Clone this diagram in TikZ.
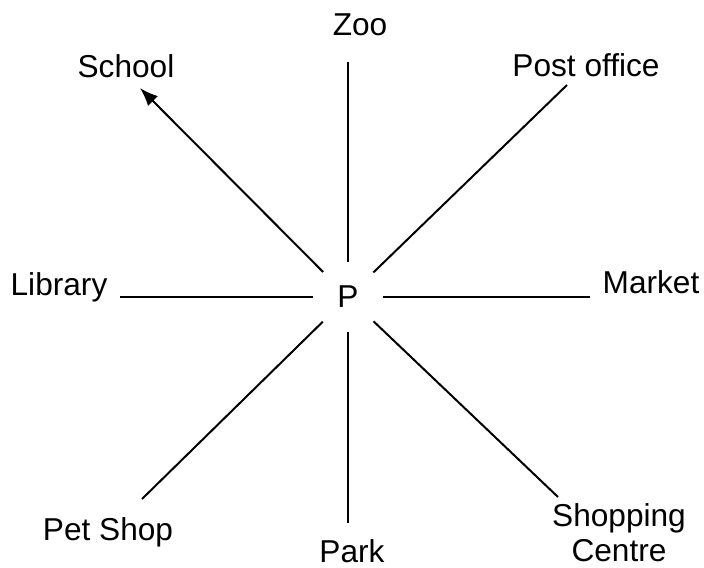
\documentclass[tikz,border=0pt]{standalone}
\usepackage{fontspec}
\setmainfont{Liberation Sans}
\usetikzlibrary{arrows.meta}

\tikzset{
  place/.style={font=\fontsize{27}{30}\selectfont,anchor=base,inner sep=0pt,align=center},
  ray/.style={line width=1.7pt,black},
}

\begin{document}
\begin{tikzpicture}[x=0.03cm,y=-0.03cm,>=Latex]
\useasboundingbox (0,0) rectangle (704,568);
% centre point
\node[circle,minimum size=2.1cm,inner sep=0pt,font=\fontsize{27}{32.4}\selectfont] (p) at (348,297) {P};
% places
\node[place] (zoo) at (360,36) {Zoo};
\node[place] (school) at (126,78) {School};
\node[place] (post) at (586,77) {Post office};
\node[place] (library) at (59,295) {Library};
\node[place] (market) at (651,293) {Market};
\node[place] (petshop) at (108,540) {Pet Shop};
\node[place] (park) at (352,562) {Park};
\node[place,anchor=north] (shopping) at (619,503) {Shopping\\Centre};
% outer ends of the rays
\coordinate (zooEnd) at (348,62);
\coordinate (schoolEnd) at (140,88);
\coordinate (postEnd) at (567,85);
\coordinate (libraryEnd) at (120,297);
\coordinate (marketEnd) at (590,297);
\coordinate (petshopEnd) at (142,499);
\coordinate (parkEnd) at (348,523);
\coordinate (shoppingEnd) at (558,497);
\draw[ray] (p) -- (zooEnd);
\draw[ray,-{Latex[length=0.55cm,width=0.42cm]}] (p) -- (schoolEnd);
\draw[ray] (p) -- (postEnd);
\draw[ray] (p) -- (libraryEnd);
\draw[ray] (p) -- (marketEnd);
\draw[ray] (p) -- (petshopEnd);
\draw[ray] (p) -- (parkEnd);
\draw[ray] (p) -- (shoppingEnd);
\end{tikzpicture}
\end{document}
